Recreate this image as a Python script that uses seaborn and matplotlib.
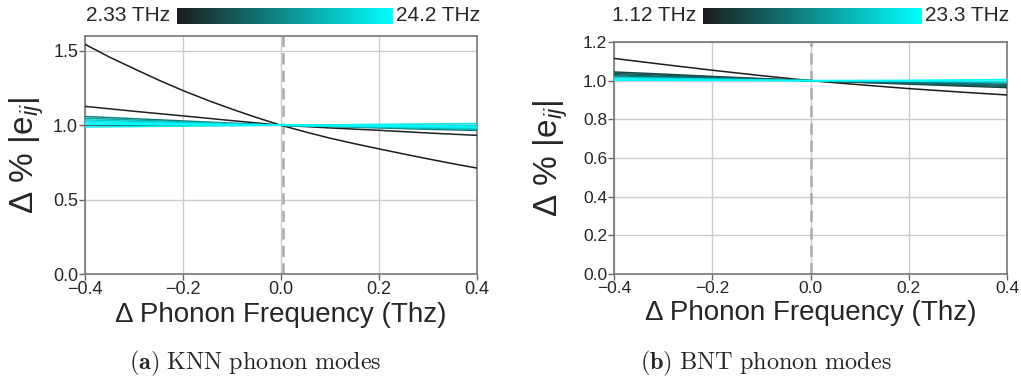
import numpy as np
import pandas as pd
import matplotlib
matplotlib.use("Agg")
import matplotlib.pyplot as plt
import seaborn as sns
from matplotlib.colors import LinearSegmentedColormap, Normalize
from matplotlib.cm import ScalarMappable

# Frequency shifts at which the strain coefficients were evaluated (THz)
shifts = [-0.4, -0.3, -0.2, -0.1, 0.0, 0.1, 0.2, 0.3, 0.4]
shifts_fine = [-0.40, -0.35, -0.30, -0.25, -0.20, -0.15, -0.10, -0.05, 0.00,
               0.05, 0.10, 0.15, 0.20, 0.25, 0.30, 0.35, 0.40]

# KNN: phonon mode frequencies (THz) and relative |e_ij| along the shifts
knn_freq = [2.33, 3.05, 6.2, 11.8, 15.6, 19.4, 21.7, 23.1, 24.2, 22.6]
knn_m1 = [1.544, 1.458, 1.380, 1.304, 1.233, 1.168, 1.108, 1.052, 1.000,
          0.955, 0.913, 0.876, 0.841, 0.807, 0.774, 0.742, 0.712]
knn_m2 = [1.127, 1.094, 1.063, 1.031, 1.000, 0.982, 0.966, 0.948, 0.932]
knn_m3 = [1.002, 1.001, 1.001, 1.000, 1.000, 1.000, 0.999, 0.999, 0.998]
knn_m4 = [1.059, 1.044, 1.029, 1.014, 1.000, 0.991, 0.982, 0.973, 0.965]
knn_m5 = [1.047, 1.035, 1.023, 1.011, 1.000, 0.993, 0.986, 0.979, 0.972]
knn_m6 = [1.036, 1.027, 1.018, 1.009, 1.000, 0.994, 0.989, 0.983, 0.978]
knn_m7 = [1.025, 1.019, 1.012, 1.006, 1.000, 0.996, 0.992, 0.989, 0.985]
knn_m8 = [1.015, 1.011, 1.007, 1.004, 1.000, 0.998, 0.995, 0.993, 0.990]
knn_m9 = [1.007, 1.005, 1.003, 1.002, 1.000, 0.999, 0.998, 0.996, 0.995]
knn_m10 = [0.988, 0.991, 0.994, 0.997, 1.000, 1.003, 1.006, 1.009, 1.012]
knn_modes = [(shifts_fine, knn_m1), (shifts, knn_m2), (shifts, knn_m3),
             (shifts, knn_m4), (shifts, knn_m5), (shifts, knn_m6),
             (shifts, knn_m7), (shifts, knn_m8), (shifts, knn_m9),
             (shifts, knn_m10)]

# BNT: phonon mode frequencies (THz) and relative |e_ij| along the shifts
bnt_freq = [1.12, 5.4, 6.8, 7.9, 9.3, 10.6, 19.8, 21.5, 23.3]
bnt_m1 = [1.115, 1.084, 1.054, 1.026, 1.000, 0.979, 0.959, 0.942, 0.926]
bnt_m2 = [1.045, 1.034, 1.022, 1.011, 1.000, 0.991, 0.982, 0.973, 0.964]
bnt_m3 = [1.038, 1.028, 1.019, 1.009, 1.000, 0.992, 0.985, 0.977, 0.970]
bnt_m4 = [1.031, 1.023, 1.015, 1.008, 1.000, 0.994, 0.988, 0.982, 0.976]
bnt_m5 = [1.025, 1.019, 1.012, 1.006, 1.000, 0.995, 0.991, 0.986, 0.981]
bnt_m6 = [1.019, 1.014, 1.009, 1.005, 1.000, 0.997, 0.994, 0.991, 0.988]
bnt_m7 = [1.016, 1.012, 1.008, 1.004, 1.000, 0.999, 0.997, 0.995, 0.993]
bnt_m8 = [1.009, 1.007, 1.004, 1.002, 1.000, 1.000, 0.999, 0.998, 0.997]
bnt_m9 = [1.002, 1.002, 1.001, 1.001, 1.000, 1.001, 1.002, 1.004, 1.006]
bnt_modes = [(shifts, m) for m in (bnt_m1, bnt_m2, bnt_m3, bnt_m4, bnt_m5,
                                   bnt_m6, bnt_m7, bnt_m8, bnt_m9)]

cbar_labels_knn = ["2.33 THz", "24.2 THz"]
cbar_labels_bnt = ["1.12 THz", "23.3 THz"]
captions = [r"$\mathbf{(a)}$ $\mathrm{KNN\ phonon\ modes}$",
            r"$\mathbf{(b)}$ $\mathrm{BNT\ phonon\ modes}$"]

sns.set_style("whitegrid")
plt.rcParams["font.family"] = ["Liberation Sans", "DejaVu Sans"]
plt.rcParams["mathtext.fontset"] = "custom"
plt.rcParams["mathtext.rm"] = "Liberation Sans"
plt.rcParams["mathtext.it"] = "Liberation Sans:italic"
plt.rcParams["mathtext.bf"] = "Liberation Sans:bold"

cmap = LinearSegmentedColormap.from_list("phonon", ["#1c1c1c", "#00ffff"])


def long_table(freqs, modes):
    rows = []
    for k, (f, (xs, ys)) in enumerate(zip(freqs, modes)):
        for s, v in zip(xs, ys):
            rows.append({"mode": k, "freq": f, "shift": s, "eij": v})
    df = pd.DataFrame(rows)
    return df.sort_values(["freq", "shift"])


fig = plt.figure(figsize=(10.21, 3.85), dpi=100)

panels = [
    dict(rect=[0.0833, 0.2883, 0.3839, 0.6182], freqs=knn_freq, modes=knn_modes,
         ylim=(0, 1.6), yticks=[0.0, 0.5, 1.0, 1.5], vline=0.005, tick_fs=13,
         cbar=[0.1734, 0.9377, 0.2116, 0.0416], cbl=cbar_labels_knn,
         ylab_x=-0.10, cap_x=0.25),
    dict(rect=[0.6014, 0.2883, 0.3849, 0.6026], freqs=bnt_freq, modes=bnt_modes,
         ylim=(0, 1.2), yticks=[0.0, 0.2, 0.4, 0.6, 0.8, 1.0, 1.2], vline=0.0,
         tick_fs=12.5, cbar=[0.6885, 0.9377, 0.2145, 0.0416], cbl=cbar_labels_bnt,
         ylab_x=-0.112, cap_x=0.75),
]

for p, cap in zip(panels, captions):
    ax = fig.add_axes(p["rect"])
    df = long_table(p["freqs"], p["modes"])
    norm = Normalize(min(p["freqs"]), max(p["freqs"]))
    sns.lineplot(data=df, x="shift", y="eij", hue="freq", units="mode",
                 estimator=None, palette=cmap, hue_norm=norm, legend=False,
                 linewidth=1.1, ax=ax, zorder=3)
    ax.axvline(p["vline"], color="#aaaaaa", linestyle=(0, (4.5, 2.5)),
               linewidth=1.8, zorder=2)
    ax.set_xlim(-0.4, 0.4)
    ax.set_ylim(*p["ylim"])
    ax.set_xticks([-0.4, -0.2, 0.0, 0.2, 0.4])
    ax.set_yticks(p["yticks"])
    ax.grid(True, color="#cccccc", linewidth=1.0)
    ax.tick_params(axis="both", labelsize=p["tick_fs"], length=4, width=1,
                   color="#666666", pad=1, direction="out",
                   bottom=True, left=True)
    for sp in ax.spines.values():
        sp.set_color("#777777")
        sp.set_linewidth(1.2)
    ax.set_xlabel("Δ Phonon Frequency (Thz)", fontsize=20, labelpad=3)
    ax.set_ylabel("Δ % |e$_{ij}$|", fontsize=24)
    ax.yaxis.set_label_coords(p["ylab_x"], 0.5)

    cax = fig.add_axes(p["cbar"])
    cb = fig.colorbar(ScalarMappable(norm=norm, cmap=cmap), cax=cax,
                      orientation="horizontal")
    cb.set_ticks([])
    cb.outline.set_visible(False)
    cax.text(-0.03, 0.5, p["cbl"][0], transform=cax.transAxes, ha="right",
             va="center", fontsize=15)
    cax.text(1.015, 0.5, p["cbl"][1], transform=cax.transAxes, ha="left",
             va="center", fontsize=15)

    fig.text(p["cap_x"], 0.055, cap, ha="center", va="center", fontsize=17.5,
             math_fontfamily="cm")

fig.savefig("out.png", dpi=100, facecolor="white")
